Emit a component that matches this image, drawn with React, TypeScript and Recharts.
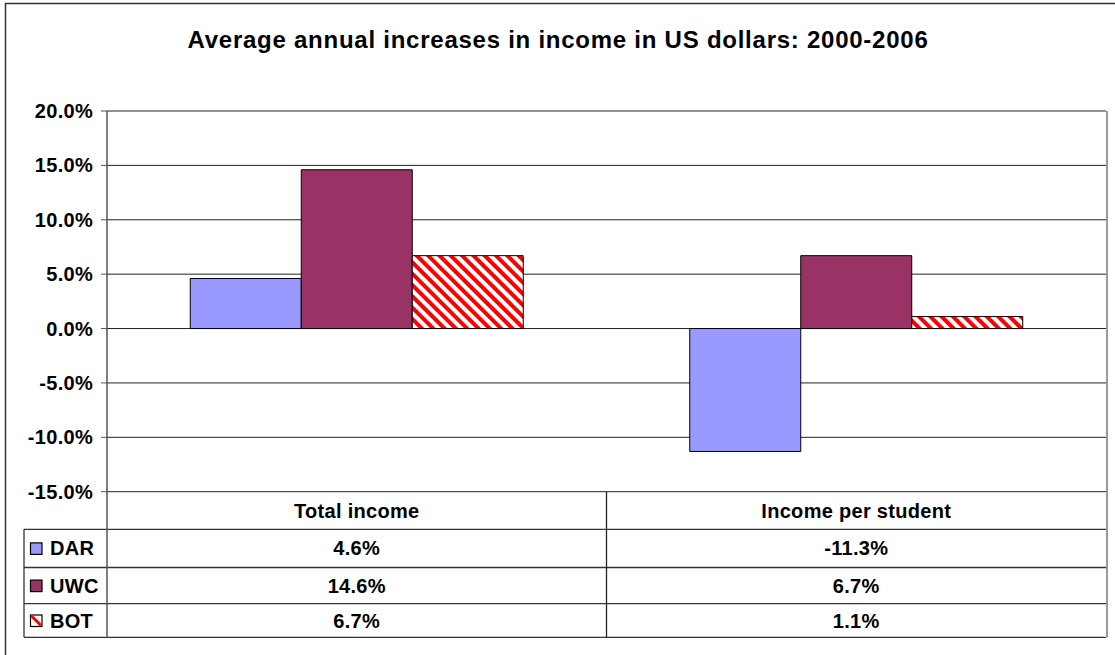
import React from 'react';
import { BarChart, Bar, XAxis, YAxis, CartesianGrid } from 'recharts';

const categories = ['Total income', 'Income per student'];
const darValues = [4.6, -11.3];
const uwcValues = [14.6, 6.7];
const botValues = [6.7, 1.1];
const yTicks = [-15, -10, -5, 0, 5, 10, 15, 20];
const seriesNames = ['DAR', 'UWC', 'BOT'];
const titleText = 'Average annual increases in income in US dollars: 2000-2006';

const data = categories.map((name, i) => ({
  name,
  DAR: darValues[i],
  UWC: uwcValues[i],
  BOT: botValues[i],
}));

const FONT = '"Liberation Sans", Arial, Helvetica, sans-serif';
const W = 1115;
const H = 655;
const PLOT_L = 107;
const PLOT_R = 1106;
const PLOT_T = 111;
const PLOT_B = 491.7;
const TABLE_L = 24;
const ROW_LINES = [529.3, 567.5, 603.7, 637.3];
const fmt = (v: number) => `${v.toFixed(1)}%`;

export default function App() {
  const seriesValues = [darValues, uwcValues, botValues];
  const colW = (PLOT_R - PLOT_L) / categories.length;
  const rowsTop = [PLOT_B, ...ROW_LINES];
  return (
    <div style={{ position: 'fixed', left: 0, top: 0, width: W, height: H, background: '#fff', overflow: 'hidden' }}>
      <svg width={0} height={0} style={{ position: 'absolute' }}>
        <defs>
          <pattern id="botHatch" patternUnits="userSpaceOnUse" width="8" height="8" patternTransform="rotate(-45)">
            <rect x="0" y="0" width="8" height="8" fill="#fff" />
            <rect x="0" y="0" width="4" height="8" fill="#ff0000" />
          </pattern>
        </defs>
      </svg>
      <div style={{ position: 'absolute', left: 0, top: 0 }}>
        <BarChart
          width={W}
          height={H}
          data={data}
          margin={{ top: PLOT_T, right: W - PLOT_R, bottom: H - PLOT_B, left: 7 }}
          barCategoryGap="16.667%"
          barGap={0}
        >
          <CartesianGrid vertical={false} stroke="#222" strokeWidth={1} />
          <XAxis dataKey="name" hide />
          <YAxis
            width={100}
            domain={[-15, 20]}
            ticks={yTicks}
            interval={0}
            tickFormatter={fmt}
            tickSize={6}
            tickMargin={8}
            axisLine={{ stroke: '#555', strokeWidth: 1.5 }}
            tickLine={{ stroke: '#555', strokeWidth: 1 }}
            tick={{ fontSize: 20, fontWeight: 'bold', fill: '#000', fontFamily: FONT, letterSpacing: 0.3 }}
          />
          <Bar dataKey="DAR" fill="#9999ff" stroke="#000" strokeWidth={1} isAnimationActive={false} />
          <Bar dataKey="UWC" fill="#993366" stroke="#000" strokeWidth={1} isAnimationActive={false} />
          <Bar dataKey="BOT" fill="url(#botHatch)" stroke="#000" strokeWidth={1} isAnimationActive={false} />
        </BarChart>
      </div>
      <svg
        width={W}
        height={H}
        style={{ position: 'absolute', left: 0, top: 0, pointerEvents: 'none' }}
        fontFamily={FONT}
      >
        {/* outer frame */}
        <line x1={5.5} y1={3} x2={5.5} y2={H} stroke="#333" strokeWidth={1.5} />
        <line x1={5} y1={3.5} x2={W} y2={3.5} stroke="#333" strokeWidth={1.5} />
        {/* title */}
        <text x={558} y={48} textAnchor="middle" fontSize={24} fontWeight="bold" letterSpacing={0.75} fill="#000">
          {titleText}
        </text>
        {/* plot right border */}
        <line x1={PLOT_R + 1} y1={PLOT_T} x2={PLOT_R + 1} y2={ROW_LINES[3]} stroke="#999" strokeWidth={2} />
        {/* table lines */}
        {ROW_LINES.map((y, i) => (
          <line key={`h${i}`} x1={TABLE_L} y1={y} x2={PLOT_R} y2={y} stroke="#333" strokeWidth={1.3} />
        ))}
        <line x1={TABLE_L} y1={ROW_LINES[0]} x2={TABLE_L} y2={ROW_LINES[3]} stroke="#333" strokeWidth={1.3} />
        <line x1={PLOT_L} y1={PLOT_B} x2={PLOT_L} y2={ROW_LINES[3]} stroke="#555" strokeWidth={1.5} />
        <line x1={PLOT_L + colW} y1={PLOT_B} x2={PLOT_L + colW} y2={ROW_LINES[3]} stroke="#222" strokeWidth={1.3} />
        {/* header */}
        {categories.map((c, i) => (
          <text key={c} x={PLOT_L + colW * (i + 0.5)} y={(PLOT_B + ROW_LINES[0]) / 2 + 7} textAnchor="middle" fontSize={20} fontWeight="bold" letterSpacing={0.3} fill="#000">
            {c}
          </text>
        ))}
        {/* rows */}
        {seriesNames.map((s, r) => {
          const top = rowsTop[r + 1];
          const bot = rowsTop[r + 2];
          const cy = (top + bot) / 2;
          return (
            <g key={s}>
              {r === 0 && <rect x={30.5} y={cy - 5.5} width={11.5} height={11.5} fill="#9999ff" stroke="#000" strokeWidth={1.2} />}
              {r === 1 && <rect x={30.5} y={cy - 5.5} width={11.5} height={11.5} fill="#993366" stroke="#000" strokeWidth={1.2} />}
              {r === 2 && (
                <g>
                  <rect x={30.5} y={cy - 5.5} width={11.5} height={11.5} fill="#fff" stroke="#000" strokeWidth={1.2} />
                  <line x1={31.5} y1={cy - 4.5} x2={41} y2={cy + 5} stroke="#ff0000" strokeWidth={3} />
                </g>
              )}
              <text x={50} y={cy + 7} fontSize={20} fontWeight="bold" letterSpacing={0.3} fill="#000">
                {s}
              </text>
              {categories.map((c, i) => (
                <text key={c} x={PLOT_L + colW * (i + 0.5)} y={cy + 7} textAnchor="middle" fontSize={20} fontWeight="bold" letterSpacing={0.3} fill="#000">
                  {fmt(seriesValues[r][i])}
                </text>
              ))}
            </g>
          );
        })}
      </svg>
    </div>
  );
}
